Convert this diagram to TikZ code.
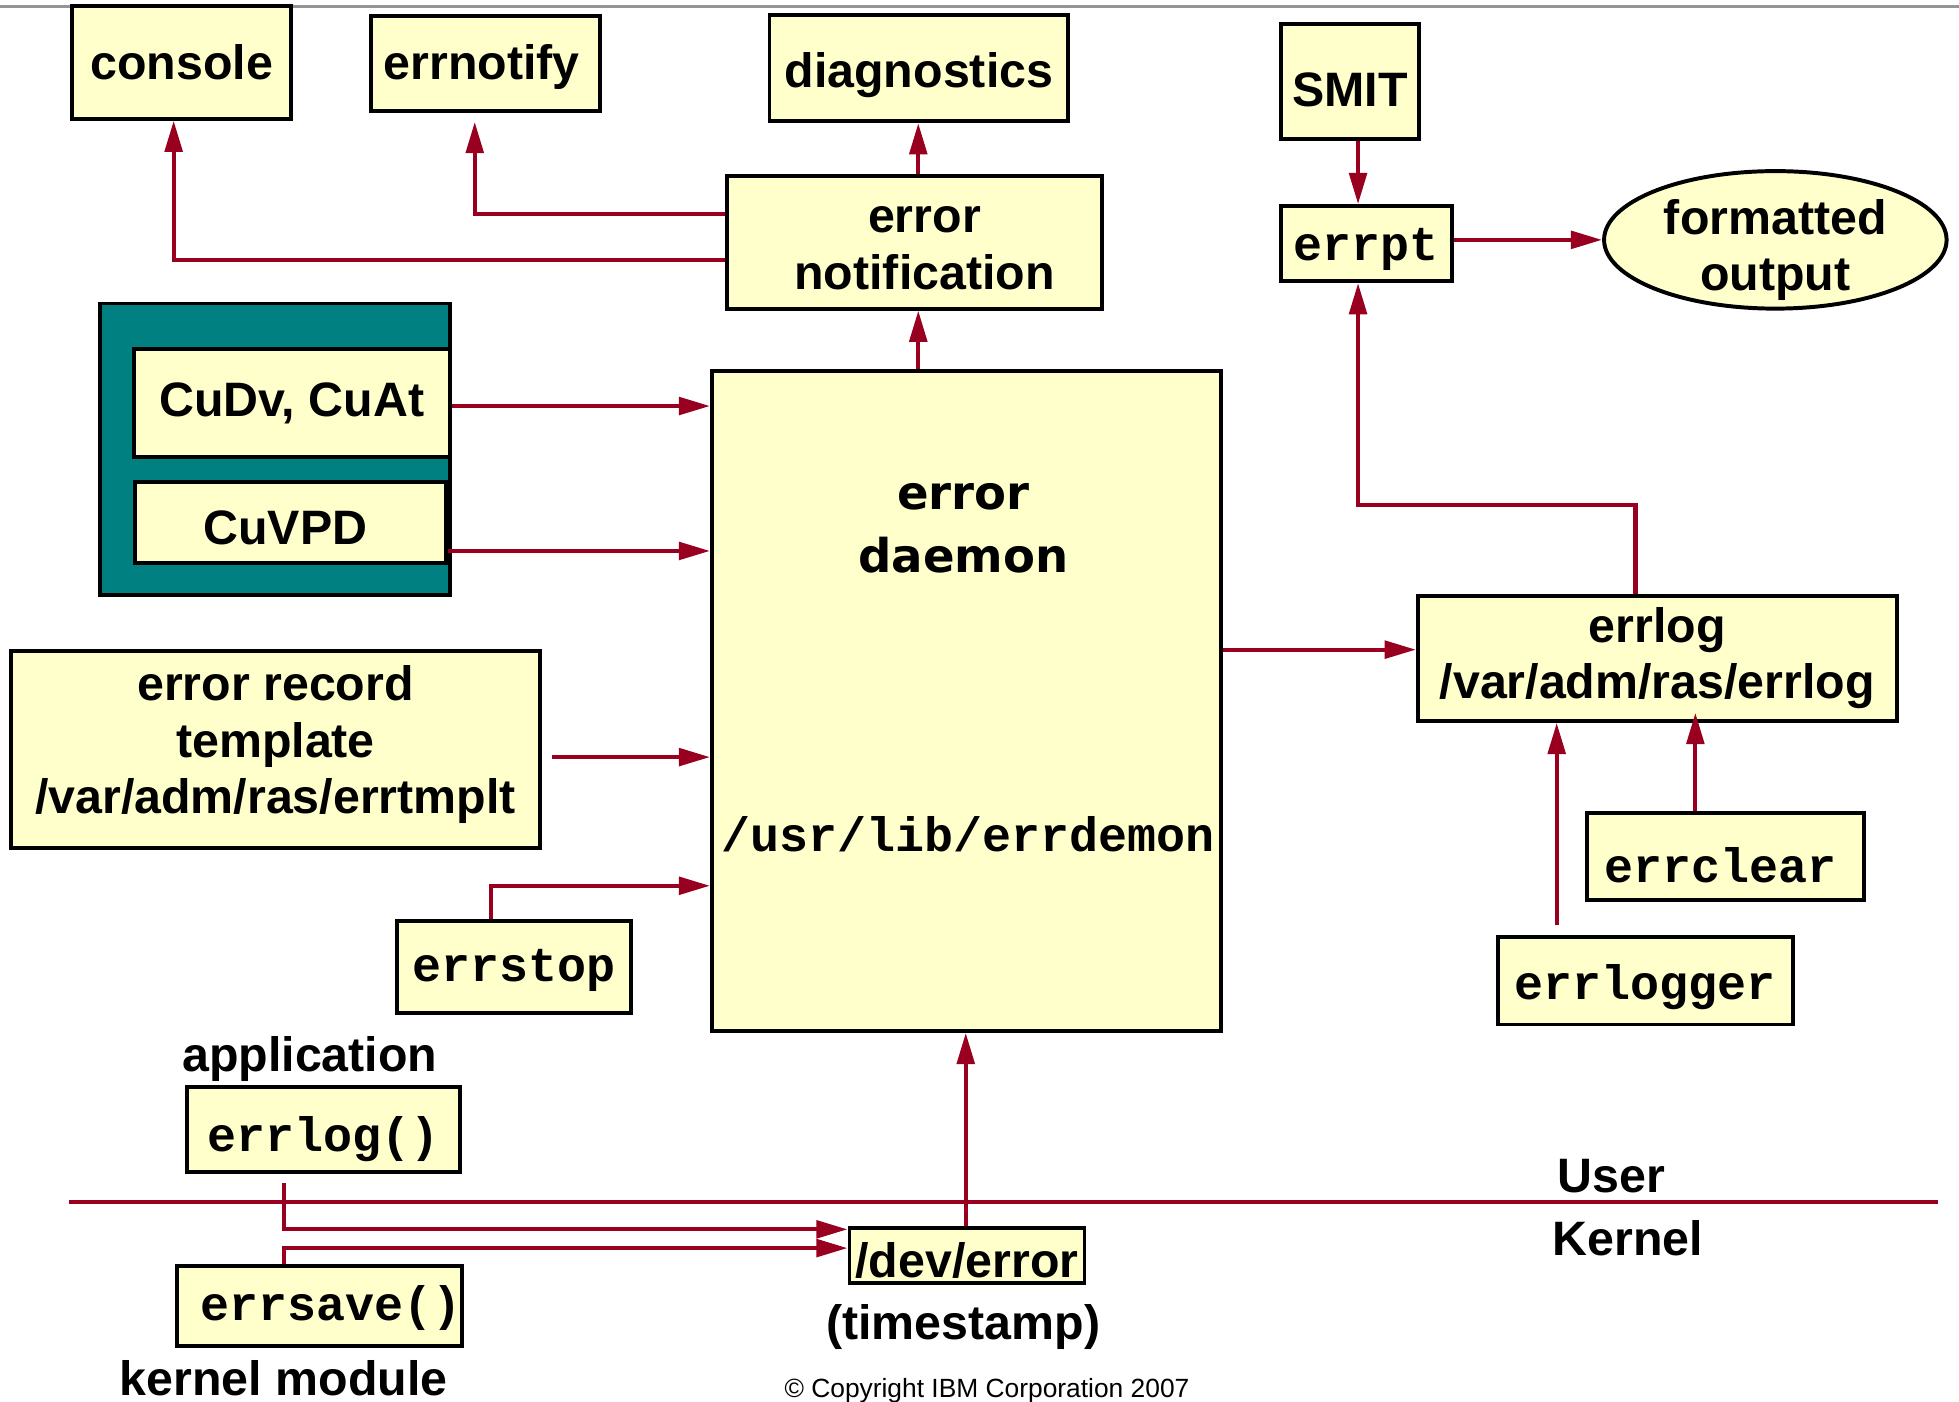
\documentclass[tikz,border=0pt]{standalone}
\usepackage{fontspec}
\setmainfont{Liberation Sans}
\setmonofont{Liberation Mono}
\newfontfamily\dejavufam{DejaVu Sans}
\usetikzlibrary{arrows.meta,shapes.geometric}
\definecolor{boxy}{HTML}{FFFFCC}
\definecolor{errred}{HTML}{990020}
\definecolor{tealc}{HTML}{008080}
\definecolor{topgray}{HTML}{959595}
\newcommand\sansb{\fontsize{11}{12.8}\selectfont\bfseries}
\newcommand\monob{\fontsize{11}{12.8}\selectfont\ttfamily\bfseries}
\newcommand\daemonfont{\dejavufam\fontsize{10.6}{14.2}\selectfont\bfseries}
\newcommand\copyfont{\fontsize{6}{7}\selectfont}
% lower text by #1 without changing the box that the node centres
\newcommand\dn[2]{\raisebox{-#1}[\height][\depth]{#2}}
\newcommand\twol[2]{\begin{tabular}{@{}c@{}}#1\\#2\end{tabular}}
\newcommand\threel[3]{\begin{tabular}{@{}c@{}}#1\\#2\\#3\end{tabular}}
\tikzset{
  box/.style={draw=black, line width=0.9pt, fill=boxy, inner sep=0pt, align=center, font=\sansb},
  mbox/.style={box, font=\monob},
  arr/.style={draw=errred, line width=0.95pt, -{Triangle[length=0.25cm,width=0.14cm]}},
  lbl/.style={inner sep=0pt, align=center, font=\sansb},
}
\begin{document}
\begin{tikzpicture}[x=0.01cm,y=-0.01cm]
\useasboundingbox (0,0) rectangle (1568,1122);
\fill[white] (0,0) rectangle (1568,1122);
\draw[topgray, line width=0.7pt] (0,5) -- (1568,5);

% top row
\node[box, minimum width=1.75cm, minimum height=0.90cm] (console) at (145.5,50) {console};
\node[box, minimum width=1.83cm, minimum height=0.76cm] (errnotify) at (388.5,51) {\dn{0.03cm}{errnotify}\hspace{0.06cm}};
\node[box, minimum width=2.39cm, minimum height=0.85cm] (diag) at (735.5,54.5) {\dn{0.06cm}{diagnostics}};
\node[box, minimum width=3.00cm, minimum height=1.06cm] (notif) at (732,194) {\hspace{0.16cm}\dn{0.06cm}{\twol{error}{notification}}};
\node[box, minimum width=1.11cm, minimum height=0.92cm] (smit) at (1080.5,65) {\dn{0.07cm}{SMIT}};
\node[mbox, minimum width=1.37cm, minimum height=0.60cm] (errpt) at (1093.5,195) {\dn{0.05cm}{errpt}};
\node[box, ellipse, inner sep=0pt, minimum width=2.74cm, minimum height=1.10cm] (fmt) at (1421,192) {\raisebox{-0.185cm}[0pt][0pt]{\twol{formatted}{output}}};

% ODM group
\node[draw=black, line width=0.9pt, fill=tealc, inner sep=0pt, minimum width=2.80cm, minimum height=2.33cm] (odm) at (220,359.5) {};
\node[box, minimum width=2.53cm, minimum height=0.87cm] (cudv) at (233.5,322.5) {CuDv, CuAt};
\node[box, minimum width=2.49cm, minimum height=0.65cm] (cuvpd) at (232.5,418.5) {\dn{0.04cm}{CuVPD}\hspace{0.08cm}};

\node[box, minimum width=4.23cm, minimum height=1.58cm] (tmpl) at (220.5,600) {\dn{-0.03cm}{\threel{error record}{template}{/var/adm/ras/errtmplt}}};

% daemon
\node[box, minimum width=4.07cm, minimum height=5.28cm] (daemon) at (773.5,561) {};
\node[lbl, font=\daemonfont] (dname) at (771,423) {error\\daemon};
\node[lbl, font=\monob] (dpath) at (775,668) {/usr/lib/errdemon};

\node[mbox, minimum width=1.87cm, minimum height=0.74cm] (errstop) at (411.5,774) {\dn{0.03cm}{errstop}};

% right side
\node[box, minimum width=3.83cm, minimum height=1.00cm] (errlog) at (1326.5,527) {errlog\\/var/adm/ras/errlog};
\node[mbox, minimum width=2.22cm, minimum height=0.69cm] (errclear) at (1381,685.5) {\dn{0.07cm}{errclear}\hspace{0.08cm}};
\node[mbox, minimum width=2.36cm, minimum height=0.70cm] (errlogger) at (1317,785) {\dn{0.05cm}{errlogger}};

% bottom
\node[lbl] (app) at (248,848) {application};
\node[mbox, minimum width=2.18cm, minimum height=0.68cm] (errlogf) at (259,904) {\dn{0.08cm}{errlog()}};
\node[mbox, minimum width=2.28cm, minimum height=0.64cm] (errsave) at (256,1045) {\hspace{0.18cm}\dn{0.02cm}{errsave()}};
\node[lbl] (kmod) at (227,1103) {kernel module};
\node[box, minimum width=1.88cm, minimum height=0.44cm] (deverr) at (774,1005) {\dn{0.04cm}{/dev/error}};
\node[lbl] (tstamp) at (771,1062) {(timestamp)};
\node[lbl] (user) at (1290,941) {User};
\node[lbl] (kernel) at (1303,991) {Kernel};
\node[inner sep=0pt, font=\copyfont] (copy) at (790,1113) {\textcopyright{} Copyright IBM Corporation 2007};

\draw[errred, line width=0.95pt] (55,962) -- (1551,962);

% connectors
\draw[arr] (notif.west |- 0,208) -| (139,0 |- console.south);
\draw[arr, shorten >=0.07cm] (notif.west |- 0,171) -| (380,0 |- errnotify.south);
\draw[arr] (735,0 |- notif.north) -- (735,0 |- diag.south);
\draw[arr] (735,0 |- daemon.north) -- (735,0 |- notif.south);
\draw[arr] (cudv.east |- 0,325) -- (daemon.west |- 0,325);
\draw[arr] (cuvpd.east |- 0,441) -- (daemon.west |- 0,441);
\draw[arr, shorten <=0.08cm] (tmpl.east |- 0,606) -- (daemon.west |- 0,606);
\draw[arr] (393,0 |- errstop.north) |- (daemon.west |- 0,709);
\draw[arr] (daemon.east |- 0,520) -- (errlog.west |- 0,520);
\draw[arr] (1309,0 |- errlog.north) -- (1309,404) -| (1087,0 |- errpt.south);
\draw[arr] (1087,0 |- smit.south) -- (1087,0 |- errpt.north);
\draw[arr] (errpt.east |- fmt.west) -- (fmt.west);
\draw[arr, shorten <=0.08cm] (1246,0 |- errlogger.north) -- (1246,0 |- errlog.south);
\draw[arr, shorten >=-0.08cm] (1357,0 |- errclear.north) -- (1357,0 |- errlog.south);
\draw[arr] (773,0 |- deverr.north) -- (773,0 |- daemon.south);
\draw[arr, shorten <=0.07cm] (227,0 |- errlogf.south) |- (deverr.west |- 0,984);
\draw[arr] (227,0 |- errsave.north) |- (deverr.west |- 0,999);
\end{tikzpicture}
\end{document}
